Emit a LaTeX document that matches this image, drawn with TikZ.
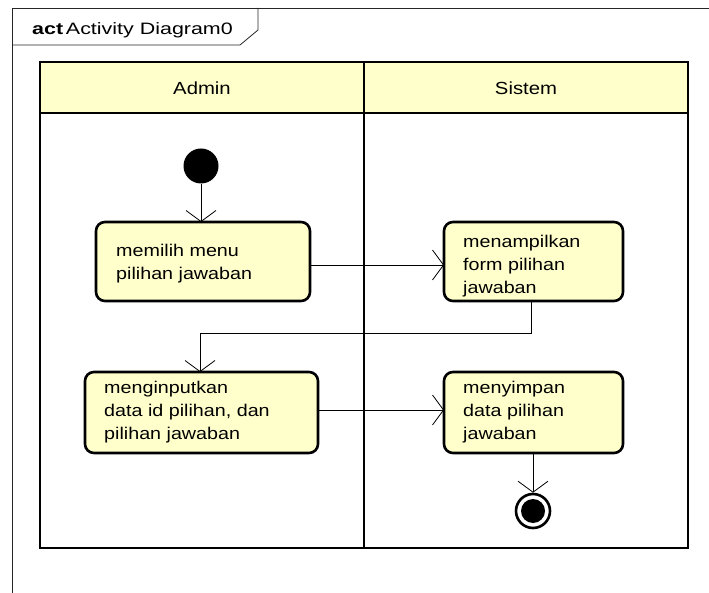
\documentclass[tikz,border=0pt]{standalone}
\usepackage{fontspec}
\setmainfont{Liberation Sans}
\newfontfamily\widesans[FakeStretch=1.16]{Liberation Sans}
\newfontfamily\titlesans[FakeStretch=1.3]{Liberation Sans}
\usetikzlibrary{arrows.meta}
\definecolor{actfill}{RGB}{255,255,204}
\begin{document}
\begin{tikzpicture}[x=1pt,y=-1pt,
  lanebox/.style={draw=black,line width=2.6pt},
  actionbox/.style={draw=black,line width=2.6pt,rounded corners=9pt,fill=actfill},
  actiontext/.style={anchor=north west,align=left,inner sep=0pt,
    font=\widesans\fontsize{17}{23}\selectfont},
  flow/.style={line width=0.8pt,-{Straight Barb[length=11pt,width=30pt,line width=0.8pt]}},
  laneheader/.style={anchor=base,inner sep=0pt,font=\widesans\fontsize{17.5}{20}\selectfont}
]
\useasboundingbox (0,0) rectangle (709,593);
\fill[white] (0,0) rectangle (709,593);

% diagram frame with its name tab
\draw[line width=0.8pt,black!85] (12,593) -- (12,8) -- (709,8);
\draw[line width=0.8pt,black!85] (12,45) -- (240,45) -- (258,30) -- (258,8);
\node[anchor=base west,inner sep=0pt,font=\titlesans\fontsize{16.5}{19}\selectfont] (title) at (32,35)
  {\textbf{act}\,Activity Diagram0};

% swimlanes
\fill[actfill] (40,62) rectangle (688,113);
\draw[lanebox] (40,62) rectangle (688,548);
\draw[lanebox] (40,113) -- (688,113);
\draw[lanebox] (364,62) -- (364,548);
\node[laneheader] (adminlane) at (202,95) {Admin};
\node[laneheader] (sistemlane) at (526,95) {Sistem};

% initial and final nodes
\node[circle,fill=black,minimum size=35pt,inner sep=0pt] (start) at (201,166) {};
\node[circle,draw=black,line width=2.6pt,minimum size=34pt,inner sep=0pt] (finish) at (533,511) {};
\fill[black] (finish.center) circle (12pt);

% actions
\draw[actionbox] (96,222) rectangle (310,301);
\draw[actionbox] (444,222) rectangle (623,301);
\draw[actionbox] (85,372) rectangle (318,453);
\draw[actionbox] (444,372) rectangle (623,453);
\coordinate (b1n) at (201,222); \coordinate (b1e) at (310,265);
\coordinate (b2w) at (444,265); \coordinate (b2s) at (531,301);
\coordinate (b3n) at (200,372); \coordinate (b3e) at (318,410);
\coordinate (b4w) at (444,410); \coordinate (b4s) at (533,453);

\node[actiontext] (t1) at (116,244) {memilih menu\\pilihan jawaban};
\node[actiontext] (t2) at (463,235) {menampilkan\\form pilihan\\jawaban};
\node[actiontext] (t3) at (104,381) {menginputkan\\data id pilihan, dan\\pilihan jawaban};
\node[actiontext] (t4) at (463,381) {menyimpan\\data pilihan\\jawaban};

% control flows
\draw[flow] (start) -- (b1n);
\draw[flow] (b1e) -- (b2w);
\draw[flow] (b2s) -- (531,333) -- (200,333) -- (b3n);
\draw[flow] (b3e) -- (b4w);
\draw[flow] (b4s) -- (finish);
\end{tikzpicture}
\end{document}
